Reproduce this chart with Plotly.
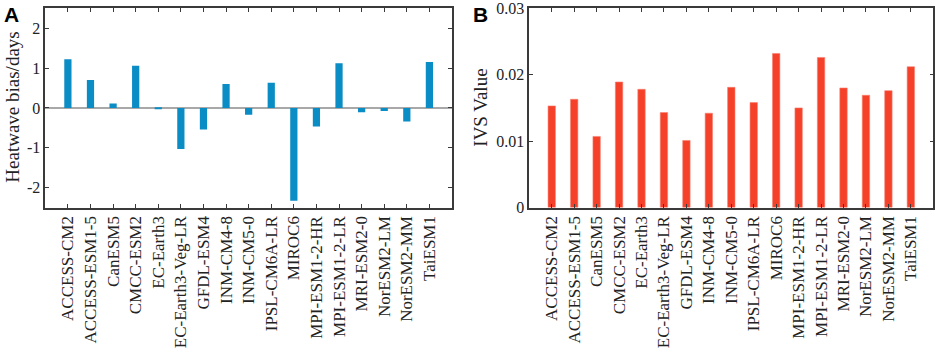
import plotly.graph_objects as go

models = ["ACCESS-CM2", "ACCESS-ESM1-5", "CanESM5", "CMCC-ESM2", "EC-Earth3",
          "EC-Earth3-Veg-LR", "GFDL-ESM4", "INM-CM4-8", "INM-CM5-0", "IPSL-CM6A-LR",
          "MIROC6", "MPI-ESM1-2-HR", "MPI-ESM1-2-LR", "MRI-ESM2-0", "NorESM2-LM",
          "NorESM2-MM", "TaiESM1"]
heatwave_bias = [1.22, 0.70, 0.11, 1.06, -0.03, -1.03, -0.54, 0.60, -0.17, 0.63,
                 -2.33, -0.47, 1.12, -0.11, -0.08, -0.34, 1.15]
ivs_value = [0.0153, 0.0163, 0.0107, 0.0189, 0.0178, 0.0143, 0.0101, 0.0142, 0.0181,
             0.0158, 0.0232, 0.0150, 0.0226, 0.0180, 0.0169, 0.0176, 0.0212]
ytick_a = [-2, -1, 0, 1, 2]
ytick_a_text = ["-2", "-1", "0", "1", "2"]
ytick_b = [0, 0.01, 0.02, 0.03]
ytick_b_text = ["0", "0.01", "0.02", "0.03"]

W, H = 941, 351
serif = "Liberation Serif"
axcol = "#3a3a3a"

fig = go.Figure()
fig.add_trace(go.Bar(x=models, y=heatwave_bias, xaxis="x", yaxis="y",
                     marker=dict(color="#0a8cc4", line=dict(width=0)), width=0.32))
fig.add_trace(go.Bar(x=models, y=ivs_value, xaxis="x2", yaxis="y2",
                     marker=dict(color="#f5412a", line=dict(width=0.6, color="#f8806e")),
                     width=0.33))

def xax(domain, anchor):
    return dict(domain=domain, anchor=anchor, type="category", range=[-1, 17],
                automargin=False, ticklabeloverflow="allow",
                showline=True, linecolor=axcol, linewidth=1.5, mirror="ticks",
                ticks="inside", ticklen=4, tickwidth=1.2, tickcolor=axcol,
                tickangle=-90, tickfont=dict(family=serif, size=17, color="#222"),
                showgrid=False, zeroline=False)

ydom = [1 - 207.5 / H, 1 - 8.3 / H]
fig.update_layout(
    width=W, height=H, margin=dict(l=0, r=0, t=0, b=0, autoexpand=False),
    paper_bgcolor="white", plot_bgcolor="white", showlegend=False,
    xaxis=xax([45.3 / W, 452 / W], "y"),
    xaxis2=xax([529.3 / W, 933.3 / W], "y2"),
    yaxis=dict(domain=ydom, anchor="x", range=[-2.5, 2.5], tickvals=ytick_a,
               ticktext=ytick_a_text, automargin=False, ticklabeloverflow="allow",
               showline=True, linecolor=axcol, linewidth=1.5, mirror="ticks",
               ticks="inside", ticklen=4, tickwidth=1.2, tickcolor=axcol,
               tickfont=dict(family=serif, size=16, color="#222"),
               showgrid=False, zeroline=True, zerolinecolor="#a8a8a8", zerolinewidth=1.5),
    yaxis2=dict(domain=ydom, anchor="x2", range=[0, 0.0300001], tickvals=ytick_b,
                ticktext=ytick_b_text, automargin=False, ticklabeloverflow="allow",
                showline=True, linecolor=axcol, linewidth=1.5, mirror="ticks",
                ticks="inside", ticklen=4, tickwidth=1.2, tickcolor=axcol,
                tickfont=dict(family=serif, size=16, color="#222"),
                showgrid=False, zeroline=False),
    annotations=[
        dict(text="Heatwave bias/days", x=13 / W, y=(1 - 107.7 / H), xref="paper", yref="paper",
             textangle=-90, showarrow=False, font=dict(family=serif, size=19, color="#222"),
             xanchor="center", yanchor="middle"),
        dict(text="IVS Value", x=481 / W, y=(1 - 107.7 / H), xref="paper", yref="paper",
             textangle=-90, showarrow=False, font=dict(family=serif, size=19, color="#222"),
             xanchor="center", yanchor="middle"),
        dict(text="<b>A</b>", x=2 / W, y=1 - 1 / H, xref="paper", yref="paper",
             showarrow=False, font=dict(family="Liberation Sans", size=21, color="black"),
             xanchor="left", yanchor="top"),
        dict(text="<b>B</b>", x=471 / W, y=1 - 1 / H, xref="paper", yref="paper",
             showarrow=False, font=dict(family="Liberation Sans", size=21, color="black"),
             xanchor="left", yanchor="top"),
    ],
)

fig.write_html("out.html", config={"displayModeBar": False},
               post_script="document.body.style.margin='0';document.body.style.overflow='hidden';")
